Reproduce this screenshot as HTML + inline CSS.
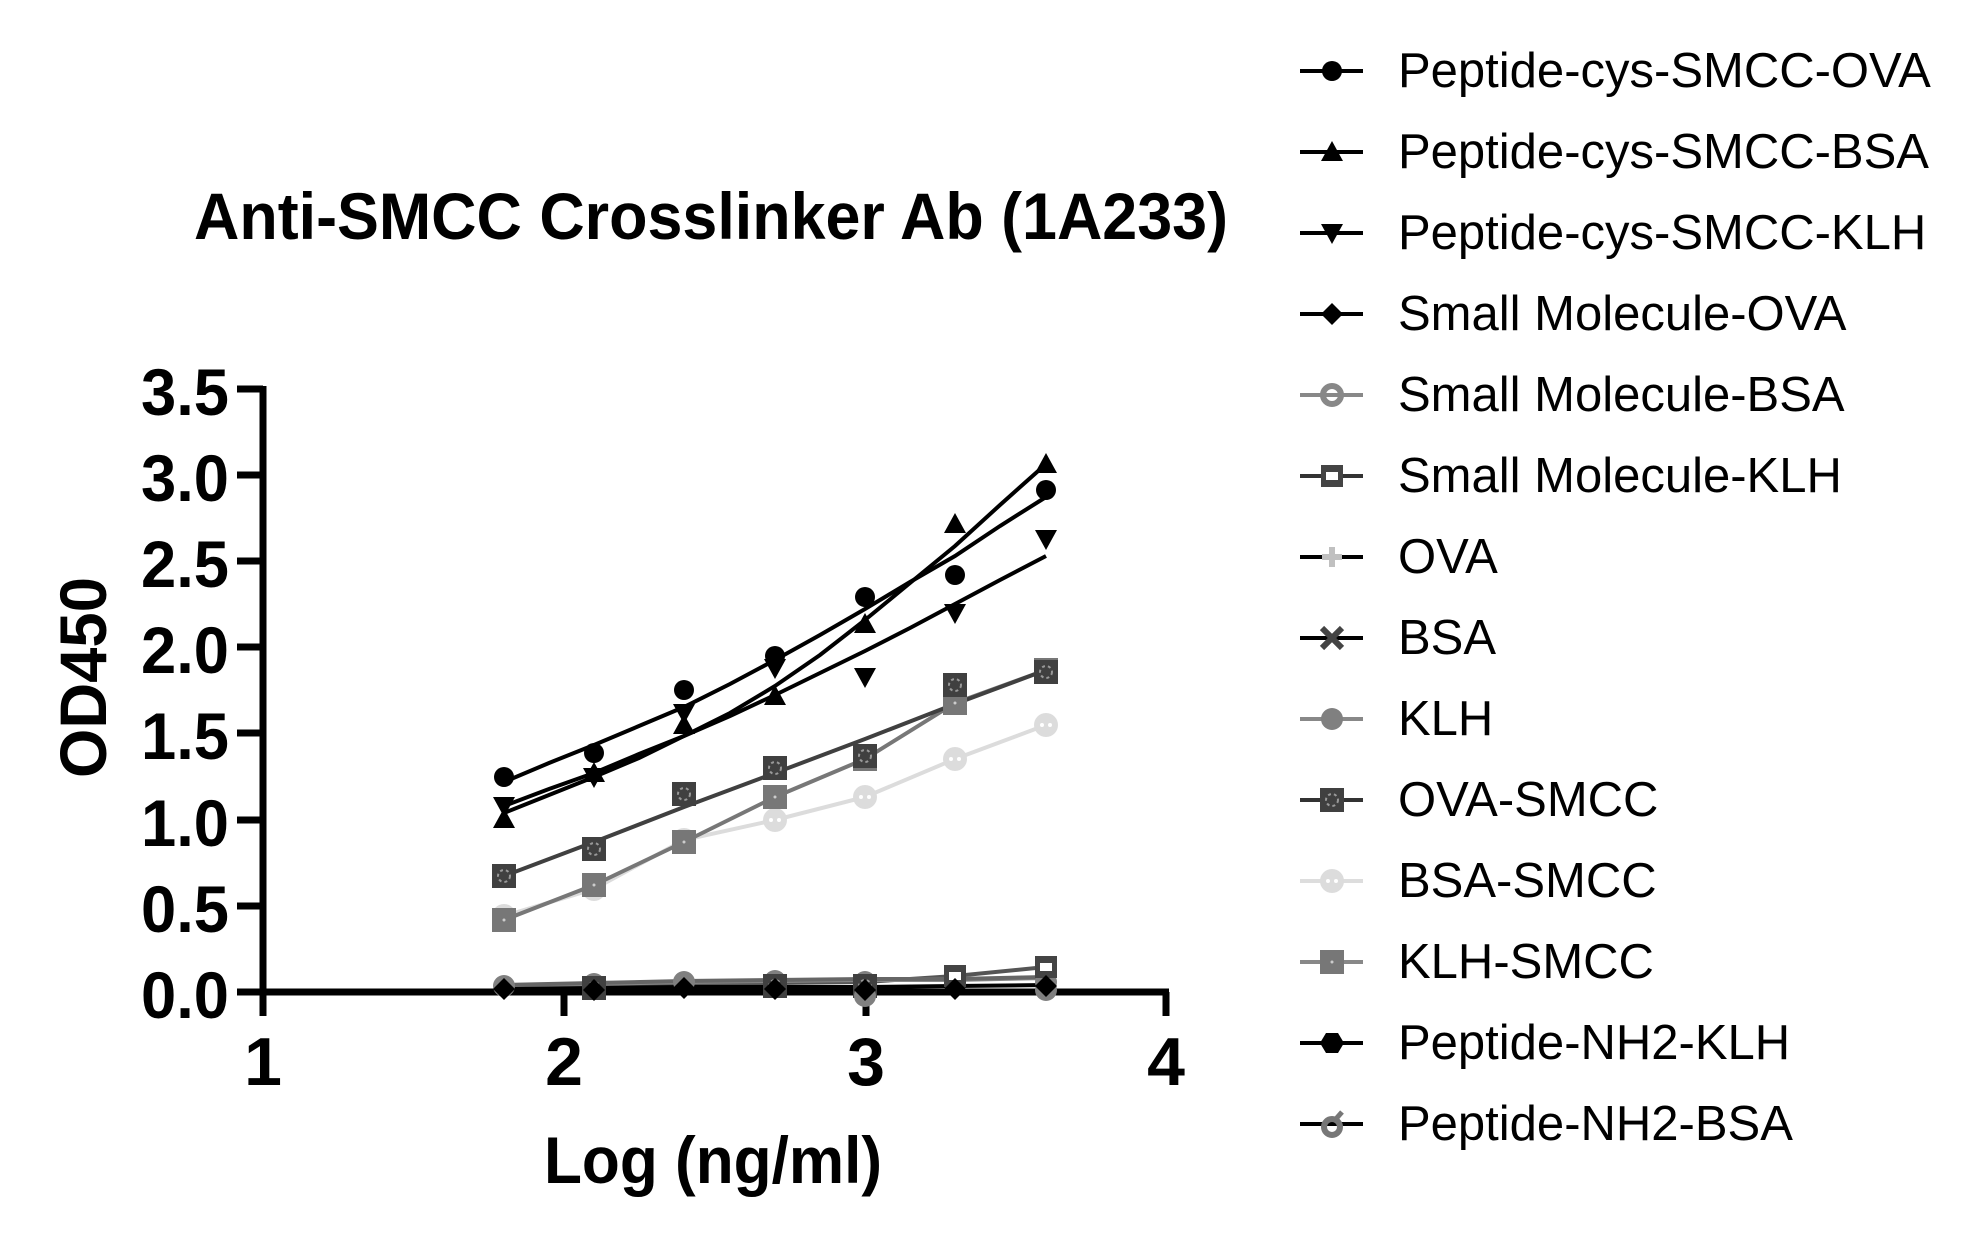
<!DOCTYPE html>
<html><head><meta charset="utf-8"><style>
html,body{margin:0;padding:0;background:#fff;}
svg{display:block;}
text{font-family:"Liberation Sans",Arial,sans-serif;}
</style></head><body>
<svg width="1972" height="1237" viewBox="0 0 1972 1237" xmlns="http://www.w3.org/2000/svg">
<defs>
<circle id="mc" r="10" fill="#000"/>
<path id="mt" d="M0,-11 L11,9 L-11,9 Z" fill="#000"/>
<path id="md" d="M0,11 L11,-9 L-11,-9 Z" fill="#000"/>
<path id="mdi" d="M0,-11 L11,0 L0,11 L-11,0 Z" fill="#000"/>
<circle id="mso" r="9" fill="none" stroke="#888" stroke-width="6"/>
<g id="msq"><rect x="-11" y="-11" width="22" height="22" fill="#444"/><rect x="-6" y="-4" width="12" height="8" fill="#fff"/></g>
<path id="mplus" d="M-3,-10h6v7h7v6h-7v7h-6v-7h-7v-6h7z" fill="#c0c0c0"/>
<path id="mx" d="M-10,-10 L10,10 M10,-10 L-10,10" stroke="#444" stroke-width="6"/>
<circle id="mk" r="11" fill="#808080"/>
<g id="mos"><rect x="-12" y="-12" width="24" height="24" fill="#404040"/><circle r="6" fill="none" stroke="#999" stroke-width="2" stroke-dasharray="3 3"/></g>
<g id="mbs"><circle r="12" fill="#dcdcdc"/><circle r="2" cx="-4" fill="#fff"/><circle r="2" cx="4" fill="#fff"/></g>
<g id="mks"><rect x="-12" y="-12" width="24" height="24" fill="#777"/><circle r="1.5" fill="#ccc"/></g>
<path id="mhex" d="M-12,0 L-6,-10 L6,-10 L12,0 L6,10 L-6,10 Z" fill="#000"/>
<g id="mnb"><circle r="8" cy="3" fill="none" stroke="#777" stroke-width="6"/><path d="M3,-4 L10,-12" stroke="#777" stroke-width="5"/></g>
</defs>

<text x="194" y="239" font-size="66" font-weight="bold" textLength="1034" lengthAdjust="spacingAndGlyphs">Anti-SMCC Crosslinker Ab (1A233)</text>

<g stroke="#000" stroke-width="7" fill="none">
<path d="M263,386 V1016"/>
<path d="M237,992 H1169"/>
<path d="M237,389 H263 M237,475 H263 M237,561 H263 M237,647 H263 M237,733 H263 M237,820 H263 M237,906 H263"/>
<path d="M263,992 V1016 M564,992 V1016 M866,992 V1016 M1166,992 V1016"/>
</g>
<g font-size="66" font-weight="bold" text-anchor="end">
<text x="229" y="415" textLength="88" lengthAdjust="spacingAndGlyphs">3.5</text>
<text x="229" y="501" textLength="88" lengthAdjust="spacingAndGlyphs">3.0</text>
<text x="229" y="587" textLength="88" lengthAdjust="spacingAndGlyphs">2.5</text>
<text x="229" y="673" textLength="88" lengthAdjust="spacingAndGlyphs">2.0</text>
<text x="229" y="759" textLength="88" lengthAdjust="spacingAndGlyphs">1.5</text>
<text x="229" y="846" textLength="88" lengthAdjust="spacingAndGlyphs">1.0</text>
<text x="229" y="932" textLength="88" lengthAdjust="spacingAndGlyphs">0.5</text>
<text x="229" y="1018" textLength="88" lengthAdjust="spacingAndGlyphs">0.0</text>
</g>
<g font-size="68" font-weight="bold" text-anchor="middle">
<text x="263" y="1085">1</text>
<text x="564" y="1085">2</text>
<text x="866" y="1085">3</text>
<text x="1166" y="1085">4</text>
</g>
<text x="544" y="1183" font-size="66" font-weight="bold" textLength="338" lengthAdjust="spacingAndGlyphs">Log (ng/ml)</text>
<text transform="translate(106,778) rotate(-90)" font-size="66" font-weight="bold" textLength="201" lengthAdjust="spacingAndGlyphs">OD450</text>

<g fill="none" stroke-width="4">
<polyline stroke="#555" points="504,986 594,985 684,984 775,983 865,982 955,976 1046,967"/>
<polyline stroke="#888" points="504,986 594,984 684,982 775,981 865,980 955,980 1046,978"/>
<polyline stroke="#000" points="504,989 594,988 684,987 775,987 865,987 955,986 1046,985"/>
<polyline stroke="#666" points="504,985 594,983 684,981 775,980 865,979 955,979 1046,977"/>
</g>
<g>
<use href="#mk" x="504" y="986"/><use href="#mk" x="594" y="984"/><use href="#mk" x="684" y="982"/><use href="#mk" x="775" y="981"/><use href="#mk" x="865" y="982"/><use href="#mk" x="955" y="982"/><use href="#mk" x="1046" y="982"/>
<use href="#mos" x="594" y="988"/><use href="#mos" x="775" y="986"/><use href="#mos" x="865" y="986"/>
<use href="#msq" x="955" y="976"/><use href="#msq" x="1046" y="967"/>
<use href="#mk" x="1046" y="990"/><use href="#mk" x="865" y="996"/>
<use href="#mdi" x="504" y="989"/><use href="#mdi" x="594" y="990"/><use href="#mdi" x="684" y="988"/><use href="#mdi" x="775" y="989"/><use href="#mdi" x="865" y="990"/><use href="#mdi" x="955" y="989"/><use href="#mdi" x="1046" y="986"/>
</g>

<g fill="none" stroke-width="4">
<polyline stroke="#dcdcdc" points="504,916 594,889 684,840 775,820 865,797 955,759 1046,725"/>
<polyline stroke="#777" points="504,920 594,885 684,842 775,797 865,759 955,703 1046,670"/>
<polyline stroke="#404040" points="504,876 594,842 684,807 775,773 865,739 955,704 1046,670"/>
</g>
<g>
<use href="#mbs" x="504" y="916"/><use href="#mbs" x="594" y="889"/><use href="#mbs" x="684" y="840"/><use href="#mbs" x="775" y="820"/><use href="#mbs" x="865" y="797"/><use href="#mbs" x="955" y="759"/><use href="#mbs" x="1046" y="725"/>
<use href="#mks" x="504" y="920"/><use href="#mks" x="594" y="885"/><use href="#mks" x="684" y="842"/><use href="#mks" x="775" y="797"/><use href="#mks" x="865" y="759"/><use href="#mks" x="955" y="703"/><use href="#mks" x="1046" y="670"/>
<use href="#mos" x="504" y="876"/><use href="#mos" x="594" y="849"/><use href="#mos" x="684" y="794"/><use href="#mos" x="775" y="768"/><use href="#mos" x="865" y="756"/><use href="#mos" x="955" y="685"/><use href="#mos" x="1046" y="672"/>
</g>

<g fill="none" stroke="#000" stroke-width="4">
<polyline points="504,782 549,763 594,745 639,726 684,707 730,684 775,660 820,635 865,609 910,582 955,556 1000,526 1046,497"/>
<polyline points="504,813 549,795 594,777 639,758 684,736 730,713 775,686 820,655 865,620 910,583 955,546 1000,505 1046,464"/>
<polyline points="504,806 549,789 594,773 639,754 684,736 730,716 775,695 820,673 865,651 910,628 955,604 1000,580 1046,556"/>
</g>
<g>
<use href="#mc" x="504" y="777"/><use href="#mc" x="594" y="753"/><use href="#mc" x="684" y="690"/><use href="#mc" x="775" y="656"/><use href="#mc" x="865" y="597"/><use href="#mc" x="955" y="575"/><use href="#mc" x="1046" y="490"/>
<use href="#mt" x="504" y="819"/><use href="#mt" x="594" y="773"/><use href="#mt" x="684" y="725"/><use href="#mt" x="775" y="696"/><use href="#mt" x="865" y="624"/><use href="#mt" x="955" y="524"/><use href="#mt" x="1046" y="464"/>
<use href="#md" x="504" y="806"/><use href="#md" x="594" y="777"/><use href="#md" x="684" y="713"/><use href="#md" x="775" y="668"/><use href="#md" x="865" y="677"/><use href="#md" x="955" y="613"/><use href="#md" x="1046" y="539"/>
</g>

<g stroke-width="4">
<path stroke="#000" d="M1300,71 H1363"/>
<path stroke="#000" d="M1300,152 H1363"/>
<path stroke="#000" d="M1300,233 H1363"/>
<path stroke="#000" d="M1300,314 H1363"/>
<path stroke="#888" d="M1300,395 H1363"/>
<path stroke="#333" d="M1300,476 H1363"/>
<path stroke="#000" d="M1300,557 H1363"/>
<path stroke="#000" d="M1300,638 H1363"/>
<path stroke="#888" d="M1300,719 H1363"/>
<path stroke="#333" d="M1300,800 H1363"/>
<path stroke="#ddd" d="M1300,881 H1363"/>
<path stroke="#888" d="M1300,962 H1363"/>
<path stroke="#000" d="M1300,1043 H1363"/>
<path stroke="#000" d="M1300,1124 H1363"/>
</g>
<use href="#mc" x="1332" y="71"/>
<use href="#mt" x="1332" y="152"/>
<use href="#md" x="1332" y="233"/>
<use href="#mdi" x="1332" y="314"/>
<use href="#mso" x="1332" y="395"/>
<use href="#msq" x="1332" y="476"/>
<use href="#mplus" x="1332" y="557"/>
<use href="#mx" x="1332" y="638"/>
<use href="#mk" x="1332" y="719"/>
<use href="#mos" x="1332" y="800"/>
<use href="#mbs" x="1332" y="881"/>
<use href="#mks" x="1332" y="962"/>
<use href="#mhex" x="1332" y="1043"/>
<use href="#mnb" x="1332" y="1124"/>
<g font-size="49" fill="#000">
<text x="1398" y="87">Peptide-cys-SMCC-OVA</text>
<text x="1398" y="168">Peptide-cys-SMCC-BSA</text>
<text x="1398" y="249">Peptide-cys-SMCC-KLH</text>
<text x="1398" y="330">Small Molecule-OVA</text>
<text x="1398" y="411">Small Molecule-BSA</text>
<text x="1398" y="492">Small Molecule-KLH</text>
<text x="1398" y="573">OVA</text>
<text x="1398" y="654">BSA</text>
<text x="1398" y="735">KLH</text>
<text x="1398" y="816">OVA-SMCC</text>
<text x="1398" y="897">BSA-SMCC</text>
<text x="1398" y="978">KLH-SMCC</text>
<text x="1398" y="1059">Peptide-NH2-KLH</text>
<text x="1398" y="1140">Peptide-NH2-BSA</text>
</g>
</svg>
</body></html>
